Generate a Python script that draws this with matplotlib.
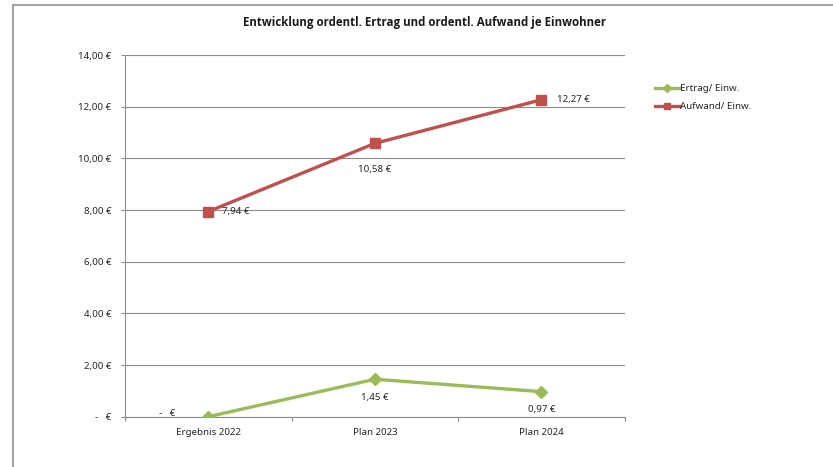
import matplotlib
matplotlib.use('Agg')
import matplotlib.pyplot as plt
from matplotlib.lines import Line2D
from matplotlib.ticker import FixedLocator, FuncFormatter

plt.rcParams['font.family'] = ['Noto Sans', 'DejaVu Sans']

# Data
categories = ['Ergebnis 2022', 'Plan 2023', 'Plan 2024']
ertrag = [0.0, 1.45, 0.97]
aufwand = [7.94, 10.58, 12.27]
series_names = ['Ertrag/ Einw.', 'Aufwand/ Einw.']
title = 'Entwicklung ordentl. Ertrag und ordentl. Aufwand je Einwohner'

green = '#9BBB59'
red = '#C0504D'
grid_col = '#8C8C8C'
text_col = '#262626'


def euro(v):
    if abs(v) < 1e-9:
        return '-   €'
    return f'{v:,.2f} €'.replace('.', '#').replace(',', '.').replace('#', ',')


fig = plt.figure(figsize=(8.33, 4.67), dpi=100)
ax = fig.add_axes([0.150, 0.1077, 0.600, 0.7745])

x = list(range(len(categories)))
ax.plot(x, ertrag, color=green, lw=2.4, marker='D', ms=6, mec=green, mfc=green,
        label=series_names[0], zorder=3)
ax.plot(x, aufwand, color=red, lw=2.4, marker='s', ms=7, mec=red, mfc=red,
        label=series_names[1], zorder=3)

ax.set_xlim(-0.5, len(categories) - 0.5)
ax.set_ylim(0, 14)

# y axis
ax.yaxis.set_major_locator(FixedLocator([0, 2, 4, 6, 8, 10, 12, 14]))
ax.yaxis.set_major_formatter(FuncFormatter(lambda v, p: euro(v)))
ax.grid(axis='y', color=grid_col, lw=0.8, zorder=0)
ax.tick_params(axis='y', length=3, width=0.8, color=grid_col, pad=7,
               labelsize=7, labelcolor=text_col)

# x axis: boundary ticks, labels at category centres
ax.xaxis.set_major_locator(FixedLocator([-0.5, 0.5, 1.5, 2.5]))
ax.xaxis.set_major_formatter(FuncFormatter(lambda v, p: ''))
ax.xaxis.set_minor_locator(FixedLocator(x))
ax.xaxis.set_minor_formatter(FuncFormatter(lambda v, p: categories[int(round(v))]))
ax.tick_params(axis='x', which='major', length=3, width=0.8, color=grid_col)
ax.tick_params(axis='x', which='minor', length=0, pad=8, labelsize=7,
               labelcolor=text_col)

for s in ['top', 'right']:
    ax.spines[s].set_visible(False)
ax.spines['left'].set_color(grid_col)
ax.spines['bottom'].set_color(grid_col)
ax.spines['left'].set_linewidth(0.8)
ax.spines['bottom'].set_linewidth(0.8)

# data labels
aufwand_off = [(10, 0, 'left', 'center'), (0, -19, 'center', 'center'),
               (11, 0, 'left', 'center')]
ertrag_off = [(-24, 2, 'right', 'center'), (0, -13, 'center', 'center'),
              (0, -13, 'center', 'center')]
for i, v in enumerate(aufwand):
    dx, dy, ha, va = aufwand_off[i]
    ax.annotate(euro(v), (x[i], v), xytext=(dx, dy), textcoords='offset points',
                ha=ha, va=va, fontsize=7, color=text_col)
for i, v in enumerate(ertrag):
    dx, dy, ha, va = ertrag_off[i]
    ax.annotate(euro(v), (x[i], v), xytext=(dx, dy), textcoords='offset points',
                ha=ha, va=va, fontsize=7, color=text_col, annotation_clip=False)

# legend
handles = [Line2D([0], [0], color=green, lw=2.4, marker='D', ms=4),
           Line2D([0], [0], color=red, lw=2.4, marker='s', ms=5)]
fig.legend(handles, series_names, loc='upper left',
           bbox_to_anchor=(0.786, 0.82), frameon=False, fontsize=7,
           handlelength=2.6, handletextpad=0.0, labelspacing=0.95,
           borderaxespad=0, borderpad=0, labelcolor=text_col)

fig.text(0.51, 0.951, title, ha='center', va='center', fontsize=8.3,
         fontweight='bold', color='#1a1a1a', family=['Open Sans', 'DejaVu Sans'])

# chart border (top and left visible)
fig.add_artist(Line2D([0.0156, 1.0], [0.989, 0.989], color='#A0A0A0', lw=1.4,
                      transform=fig.transFigure))
fig.add_artist(Line2D([0.0156, 0.0156], [0.0, 0.989], color='#A0A0A0', lw=1.4,
                      transform=fig.transFigure))

fig.savefig('out.png', dpi=100)
